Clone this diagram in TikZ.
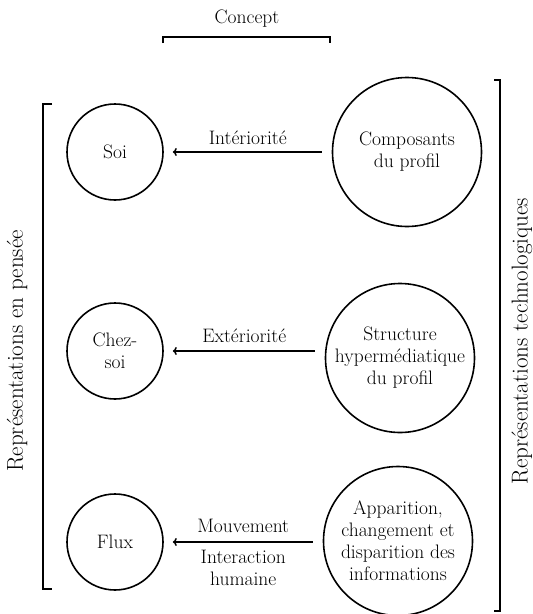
\documentclass[tikz,border=0pt]{standalone}
\usetikzlibrary{arrows.meta}
\begin{document}
\begin{tikzpicture}[x=1pt,y=-1pt,
  every node/.style={font=\fontsize{19.5}{22}\selectfont},
  side/.style={rotate=90,font=\fontsize{23}{26}\selectfont},
  circ/.style={draw,circle,line width=1.6pt,inner sep=0pt,align=center},
  small/.style={circ,minimum size=96pt},
  big/.style={circ,minimum size=149pt},
  arr/.style={line width=1.5pt,-{To[length=4pt,width=8pt]},shorten >=9pt,shorten <=10pt},
  brk/.style={line width=1.8pt},
  lbl/.style={align=center,inner sep=0pt}]
\useasboundingbox (0,0) rectangle (533,614);
% top bracket
\node (concept) at (247,19) {Concept};
\draw[brk] (163,43) -- (163,37) -- (330,37) -- (330,43);
% side brackets
\draw[brk] (52,104) -- (43,104) -- (43,589) -- (52,589);
\draw[brk] (494,80) -- (500,80) -- (500,611) -- (494,611);
\node[side] (left) at (17,351) {Représentations en pensée};
\node[side] (right) at (522,341) {Représentations technologiques};
% circles
\node[small] (soi) at (115,152) {Soi};
\node[big] (comp) at (407,152) {Composants\\du profil};
\node[small] (chez) at (115,351) {Chez-\\soi};
\node[big] (struct) at (400,358) {Structure\\hypermédiatique\\du profil};
\node[small] (flux) at (115,542) {Flux};
\node[big] (app) at (398,541) {Apparition,\\changement et\\disparition des\\informations};
% arrows
\draw[arr] (comp) -- node[lbl,midway,above=7pt] (int) {Intériorité} (soi);
\draw[arr] (struct.west |- chez.east) -- node[lbl,midway,above=8pt] (ext) {Extériorité} (chez.east);
\draw[arr] (app.west |- flux.east) -- node[lbl,midway,above=9pt] (mouv) {Mouvement}
  node[lbl,midway,below=7pt] (inter) {Interaction\\humaine} (flux.east);
\end{tikzpicture}
\end{document}
